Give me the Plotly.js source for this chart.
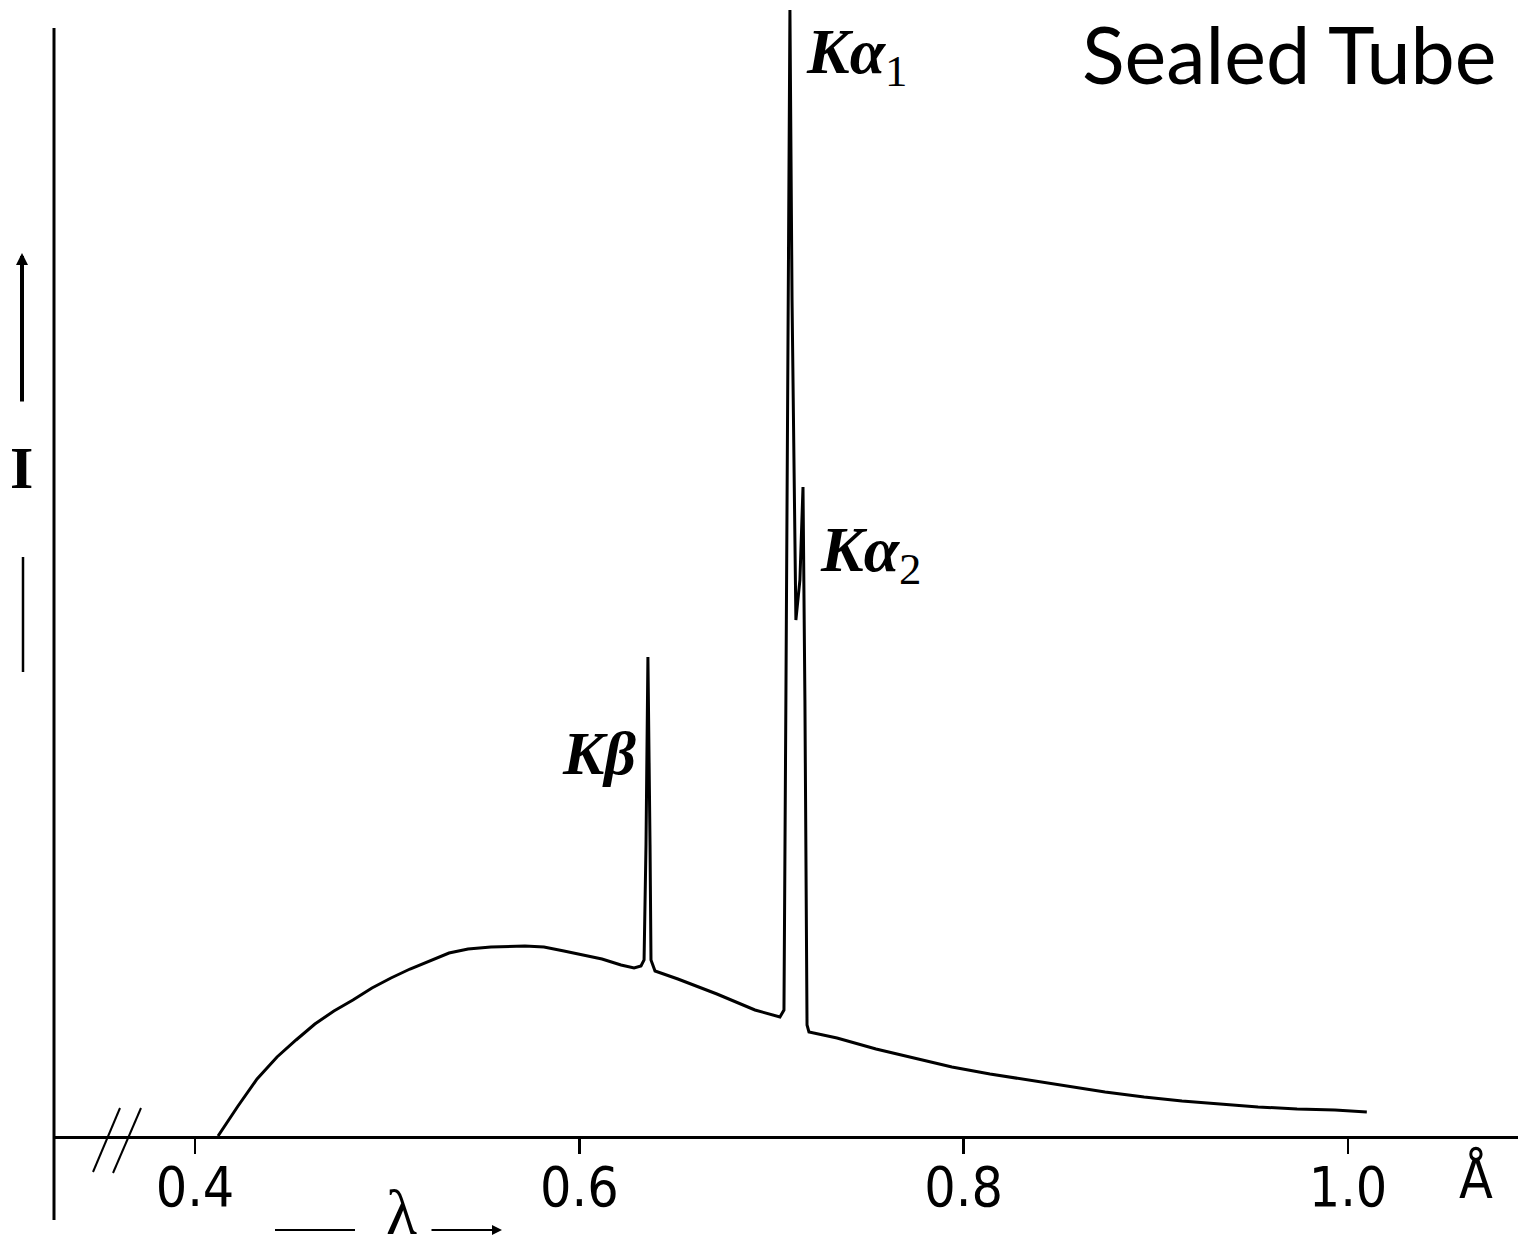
<!DOCTYPE html>
<html>
<head>
<meta charset="utf-8">
<script src="https://cdn.plot.ly/plotly-3.0.1.min.js"></script>
<style>
  html, body { margin: 0; padding: 0; background: #ffffff; }
  #chart { width: 1518px; height: 1250px; }
</style>
</head>
<body>
<div id="chart"></div>
<script>
// Wavelength (Å) and relative intensity
const wavelength = [0.4120,0.4224,0.4323,0.4427,0.4526,0.4624,0.4723,0.4822,0.4921,0.5020,0.5119,0.5223,0.5322,0.5421,0.5540,
  0.5717,0.5816,0.5920,0.6019,0.6118,0.6217,0.6285,0.6321,0.6337,0.6347,
  0.6357,0.6368,0.6373,0.6394,0.6513,0.6716,0.6914,0.7044,0.7065,0.7075,
  0.7086,0.7096,0.7107,0.7127,0.7148,0.7164,0.7174,0.7185,0.7195,0.7341,
  0.7544,0.7742,0.7939,0.8137,0.8340,0.8538,0.8736,0.8939,0.9136,0.9334,
  0.9532,0.9735,0.9932,1.0098];
const intensity = [0,3.0,5.7,7.9,9.6,11.2,12.5,13.6,14.8,15.8,16.7,17.5,18.3,18.7,18.9,
  19.0,18.9,18.5,18.1,17.7,17.1,16.8,17.0,17.6,29.1,
  47.9,29.1,17.6,16.5,15.7,14.2,12.6,11.9,12.6,43.6,
  83.6,112.6,83.6,51.6,55.6,64.9,43.6,11.1,10.4,9.8,
  8.7,7.8,6.9,6.2,5.6,5.0,4.4,3.9,3.5,3.2,
  2.9,2.7,2.6,2.4];
const tickValues = [0.4, 0.6, 0.8, 1.0];
const tickLabels = ["0.4", "0.6", "0.8", "1.0"];
const lineLabels = ["<b><i>Kα</i></b><sub>1</sub>", "<b><i>Kα</i></b><sub>2</sub>", "<b><i>Kβ</i></b>"];
const titleText = "Sealed Tube";

// layout geometry (pixels)
const W = 1518, H = 1250, L = 54, B = 114;
const PW = W - L, PH = H - B;
const px = x => (x - L) / PW;        // page x -> paper x
const py = y => (H - B - y) / PH;    // page y -> paper y

const trace = {
  x: wavelength, y: intensity, type: 'scatter', mode: 'lines',
  line: { color: '#000', width: 3, shape: 'linear' }, hoverinfo: 'skip'
};

const serif = "Liberation Serif, DejaVu Serif, serif";
const narrow = "Liberation Sans Narrow, DejaVu Sans Condensed, Liberation Sans, sans-serif";

const layout = {
  width: W, height: H,
  margin: { l: L, r: 0, t: 0, b: B, pad: 0 },
  paper_bgcolor: '#fff', plot_bgcolor: '#fff',
  showlegend: false,
  xaxis: {
    range: [0.32664, 1.08847], showgrid: false, zeroline: false,
    showline: true, linecolor: '#000', linewidth: 3,
    ticks: 'outside', ticklen: 15, tickwidth: 2.5, tickcolor: '#000',
    tickvals: tickValues, ticktext: tickLabels,
    ticklabelstandoff: -14,
    tickfont: { family: narrow, size: 55, color: '#000' },
    fixedrange: true
  },
  yaxis: {
    range: [0, 113.6], showgrid: false, zeroline: false, showline: false,
    showticklabels: false, ticks: '', fixedrange: true
  },
  shapes: [
    // vertical axis (extends above and below)
    { type: 'line', xref: 'paper', yref: 'paper', x0: 0, x1: 0, y0: py(1220), y1: py(28),
      line: { color: '#000', width: 3 } },
    // axis break marks
    { type: 'line', xref: 'paper', yref: 'paper', x0: px(93), y0: py(1172), x1: px(120), y1: py(1108),
      line: { color: '#000', width: 2 } },
    { type: 'line', xref: 'paper', yref: 'paper', x0: px(113), y0: py(1173), x1: px(141), y1: py(1108),
      line: { color: '#000', width: 2 } },
    // line below "I"
    { type: 'line', xref: 'paper', yref: 'paper', x0: px(23), x1: px(23), y0: py(672), y1: py(557),
      line: { color: '#000', width: 2.5 } },
    // dash left of lambda
    { type: 'line', xref: 'paper', yref: 'paper', x0: px(275), x1: px(355), y0: py(1230), y1: py(1230),
      line: { color: '#000', width: 2 } }
  ],
  annotations: [
    { xref: 'paper', yref: 'paper', x: px(1498), y: py(54), xanchor: 'right', yanchor: 'middle',
      text: titleText, showarrow: false, font: { family: "Lato, Open Sans, sans-serif", size: 79, color: '#000' } },
    { xref: 'paper', yref: 'paper', x: px(804), y: py(56), xanchor: 'left', yanchor: 'middle',
      text: lineLabels[0], showarrow: false, font: { family: serif, size: 64, color: '#000' } },
    { xref: 'paper', yref: 'paper', x: px(818), y: py(554), xanchor: 'left', yanchor: 'middle',
      text: lineLabels[1], showarrow: false, font: { family: serif, size: 64, color: '#000' } },
    { xref: 'paper', yref: 'paper', x: px(638), y: py(753), xanchor: 'right', yanchor: 'middle',
      text: lineLabels[2], showarrow: false, font: { family: serif, size: 62, color: '#000' } },
    { xref: 'paper', yref: 'paper', x: px(21), y: py(468), xanchor: 'center', yanchor: 'middle',
      text: "<b>I</b>", showarrow: false, font: { family: serif, size: 60, color: '#000' } },
    // up arrow for intensity
    { xref: 'paper', yref: 'paper', x: px(22), y: py(253), ax: 0, ay: 150, text: '',
      showarrow: true, arrowhead: 2, arrowsize: 0.6, arrowwidth: 4, arrowcolor: '#000' },
    // lambda label
    { xref: 'paper', yref: 'paper', x: px(401), y: py(1250), xanchor: 'center', yanchor: 'bottom',
      text: "λ", showarrow: false, font: { family: serif, size: 64, color: '#000' } },
    { xref: 'paper', yref: 'paper', x: px(502), y: py(1230), ax: -72, ay: 0, text: '',
      showarrow: true, arrowhead: 2, arrowsize: 1, arrowwidth: 2, arrowcolor: '#000' },
    // unit
    { xref: 'paper', yref: 'paper', x: px(1476), y: py(1178), xanchor: 'center', yanchor: 'middle',
      text: "Å", showarrow: false, font: { family: narrow, size: 55, color: '#000' } }
  ]
};

Plotly.newPlot('chart', [trace], layout, { staticPlot: true, displayModeBar: false });
</script>
</body>
</html>
